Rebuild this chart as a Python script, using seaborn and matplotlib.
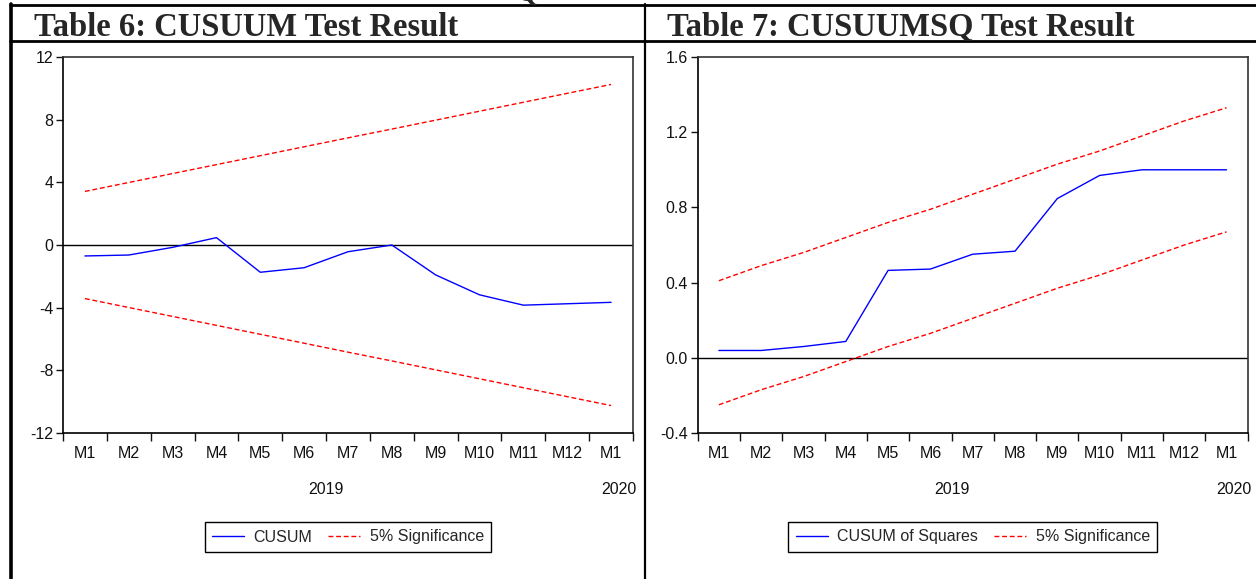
import numpy as np
import pandas as pd
import matplotlib
matplotlib.use("Agg")
import matplotlib.pyplot as plt
from matplotlib.lines import Line2D
import matplotlib.transforms as mtransforms
import seaborn as sns

# ---- data ----
months = ["M1", "M2", "M3", "M4", "M5", "M6", "M7", "M8", "M9", "M10", "M11", "M12", "M1"]
years = ["2019", "2020"]

cusum = [-0.70, -0.64, -0.15, 0.47, -1.74, -1.45, -0.43, 0.00, -1.91, -3.18, -3.84, -3.75, -3.66]
cusum_upper = [3.42, 3.99, 4.56, 5.13, 5.70, 6.27, 6.84, 7.40, 7.97, 8.54, 9.11, 9.68, 10.25]
cusum_lower = [-3.42, -3.99, -4.56, -5.13, -5.70, -6.27, -6.84, -7.40, -7.97, -8.54, -9.11, -9.68, -10.25]

cusumsq = [0.039, 0.039, 0.060, 0.087, 0.465, 0.472, 0.551, 0.567, 0.847, 0.970, 1.000, 1.000, 1.000]
sq_upper = [0.41, 0.49, 0.56, 0.64, 0.72, 0.79, 0.87, 0.95, 1.03, 1.10, 1.18, 1.26, 1.33]
sq_lower = [-0.25, -0.17, -0.10, -0.02, 0.06, 0.13, 0.21, 0.29, 0.37, 0.44, 0.52, 0.60, 0.67]

titles = ["Table 6: CUSUUM Test Result", "Table 7: CUSUUMSQ Test Result"]
legend_main = ["CUSUM", "CUSUM of Squares"]
legend_sig = "5% Significance"
yticks_left = [12, 8, 4, 0, -4, -8, -12]
yticks_right = [1.6, 1.2, 0.8, 0.4, 0.0, -0.4]

sns.set_style("white")
plt.rcParams["font.family"] = ["Liberation Sans", "DejaVu Sans"]

W, H = 1256, 579
fig = plt.figure(figsize=(W / 100, H / 100), dpi=100)


def fx(px):
    return px / W


def fy(py):
    return 1 - py / H


# table borders
def hline(y, x0, x1, lw):
    fig.add_artist(Line2D([fx(x0), fx(x1)], [fy(y), fy(y)], color="black", lw=lw, transform=fig.transFigure))


def vline(x, y0, y1, lw):
    fig.add_artist(Line2D([fx(x), fx(x)], [fy(y0), fy(y1)], color="black", lw=lw, transform=fig.transFigure))


hline(5, 10, W, 2.0)
hline(41, 10, W, 2.0)
vline(11, 4, H, 2.6)
vline(645, 4, H, 1.6)

fig.text(fx(527), fy(1), "Q", fontsize=20, fontweight="bold", family="Liberation Serif",
         ha="center", va="baseline")

fig.text(fx(34), fy(36), titles[0], fontsize=23.5, fontweight="bold", family="Liberation Serif",
         ha="left", va="baseline")
fig.text(fx(667), fy(36), titles[1], fontsize=23.5, fontweight="bold", family="Liberation Serif",
         ha="left", va="baseline")

x = np.arange(len(months))

panels = [
    dict(left=63, right=633, main=cusum, up=cusum_upper, lo=cusum_lower, ylim=(-12, 12),
         yticks=yticks_left, fmt="{:g}", leg=legend_main[0]),
    dict(left=697.7, right=1247.7, main=cusumsq, up=sq_upper, lo=sq_lower, ylim=(-0.4, 1.6),
         yticks=yticks_right, fmt="{:.1f}", leg=legend_main[1]),
]

top, bottom = 57, 433
dash = (0, (3.5, 2))
for p in panels:
    ax = fig.add_axes([fx(p["left"]), fy(bottom), fx(p["right"] - p["left"]), (bottom - top) / H])
    df = pd.DataFrame({"x": x, "main": p["main"], "up": p["up"], "lo": p["lo"]})
    ax.axhline(0, color="black", lw=1.0, zorder=1)
    sns.lineplot(data=df, x="x", y="up", ax=ax, color="#ff0000", lw=1.0, linestyle=dash, zorder=2)
    sns.lineplot(data=df, x="x", y="lo", ax=ax, color="#ff0000", lw=1.0, linestyle=dash, zorder=2)
    sns.lineplot(data=df, x="x", y="main", ax=ax, color="#0000ff", lw=1.0, zorder=3)
    ax.set_xlim(-0.5, 12.5)
    ax.set_ylim(*p["ylim"])
    ax.set_xlabel("")
    ax.set_ylabel("")
    for s in ax.spines.values():
        s.set_color("black")
        s.set_linewidth(1.2)
    ax.spines["top"].set_color("#333333")
    ax.spines["right"].set_color("#333333")
    ax.set_yticks(p["yticks"])
    ax.set_yticklabels([p["fmt"].format(v) for v in p["yticks"]])
    ax.tick_params(axis="y", direction="out", length=5, width=1, pad=2, labelsize=11.5,
                   left=True, colors="#111111")
    ax.set_xticks(np.arange(-0.5, 13.0, 1.0))
    ax.set_xticklabels([])
    ax.set_xticks(x, minor=True)
    ax.set_xticklabels(months, minor=True)
    ax.tick_params(axis="x", which="major", direction="out", length=6, width=1, bottom=True,
                   colors="#111111")
    ax.tick_params(axis="x", which="minor", length=0, pad=9, labelsize=11.5, colors="#111111")
    ax.grid(False)
    trans = mtransforms.blended_transform_factory(ax.transData, ax.transAxes)
    ypos = -(490 - bottom) / (bottom - top)
    ax.text(5.5, ypos, years[0], transform=trans, ha="center", va="center", fontsize=11.5, color="#111111")
    ax.text(12.17, ypos, years[1], transform=trans, ha="center", va="center", fontsize=11.5, color="#111111")
    handles = [Line2D([], [], color="#0000ff", lw=1.0),
               Line2D([], [], color="#ff0000", lw=1.0, linestyle=dash)]
    leg = ax.legend(handles, [p["leg"], legend_sig], loc="center",
                    bbox_to_anchor=(0.5, -(537 - bottom) / (bottom - top)), ncol=2,
                    frameon=True, fancybox=False, edgecolor="black", framealpha=1,
                    fontsize=11.5, handlelength=2.0, columnspacing=1.0, handletextpad=0.6,
                    borderpad=0.45)
    leg.get_frame().set_linewidth(1.0)

fig.savefig("out.png", dpi=100)
